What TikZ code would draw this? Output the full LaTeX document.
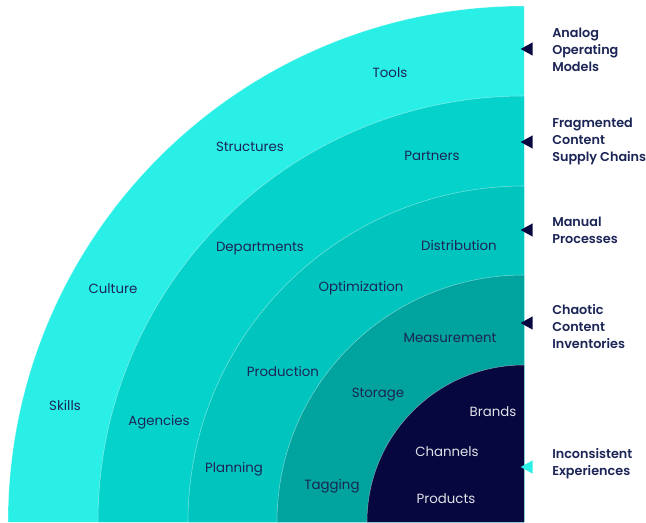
\documentclass[tikz,border=0pt]{standalone}
\usepackage{fontspec}
\setmainfont{Poppins}[BoldFont={Poppins SemiBold}]
\usetikzlibrary{shapes.geometric}

\definecolor{ringA}{HTML}{2AEFE6}
\definecolor{ringB}{HTML}{05D3CB}
\definecolor{ringC}{HTML}{00C5BE}
\definecolor{ringD}{HTML}{00A39E}
\definecolor{ringE}{HTML}{07073F}
\definecolor{inktext}{HTML}{1B2556}

\begin{document}
\begin{tikzpicture}[x=0.75pt, y=0.75pt,
    word/.style={font=\fontsize{10}{12}\selectfont, text=inktext},
    issue/.style={font=\bfseries\fontsize{9.6}{12.75}\selectfont, text=inktext, align=left, anchor=west, inner sep=0pt},
    pointer/.style={isosceles triangle, isosceles triangle stretches, shape border rotate=180,
        minimum height=9pt, minimum width=10pt, inner sep=0pt, anchor=apex, fill=#1}]
    \useasboundingbox (-524,0) rectangle (122,522);

    \foreach \r/\c in {516/ringA, 426/ringB, 336/ringC, 247/ringD, 157/ringE}
    {
        \fill[\c] (0,0) -- (0,\r) arc[start angle=90, end angle=180, radius=\r] -- cycle;
        \draw[white, opacity=0.45, line width=0.4pt] (0,\r) arc[start angle=90, end angle=180, radius=\r];
    }

    \node[word] (tools) at (-134,449) {Tools};
    \node[word] (structures) at (-274,375) {Structures};
    \node[word] (culture) at (-411,233) {Culture};
    \node[word] (skills) at (-459,117) {Skills};

    \node[word] (partners) at (-92,366) {Partners};
    \node[word] (departments) at (-264,273) {Departments};
    \node[word] (agencies) at (-365,100) {Agencies};

    \node[word] (distribution) at (-65,277) {Distribution};
    \node[word] (optimization) at (-163,234) {Optimization};
    \node[word] (production) at (-241,151) {Production};
    \node[word] (planning) at (-290,53) {Planning};

    \node[word] (measurement) at (-74,184) {Measurement};
    \node[word] (storage) at (-146,127) {Storage};
    \node[word] (tagging) at (-192,36) {Tagging};

    \node[word, text=white!88!ringE] (brands) at (-31,110) {Brands};
    \node[word, text=white!88!ringE] (channels) at (-77,70) {Channels};
    \node[word, text=white!88!ringE] (products) at (-78,23) {Products};

    \node[pointer=ringE] (ptrA) at (-4,473) {};
    \node[pointer=ringE] (ptrB) at (-4,380) {};
    \node[pointer=ringE] (ptrC) at (-4,292) {};
    \node[pointer=ringE] (ptrD) at (-4,199) {};
    \node[pointer=ringA] (ptrE) at (-4,55) {};

    \node[issue] (analog) at (28,472) {Analog\\Operating\\Models};
    \node[issue] (fragmented) at (28,381) {Fragmented\\Content\\Supply Chains};
    \node[issue] (manual) at (28,292) {Manual\\Processes};
    \node[issue] (chaotic) at (28,195) {Chaotic\\Content\\Inventories};
    \node[issue] (inconsistent) at (28,58) {Inconsistent\\Experiences};
\end{tikzpicture}
\end{document}
